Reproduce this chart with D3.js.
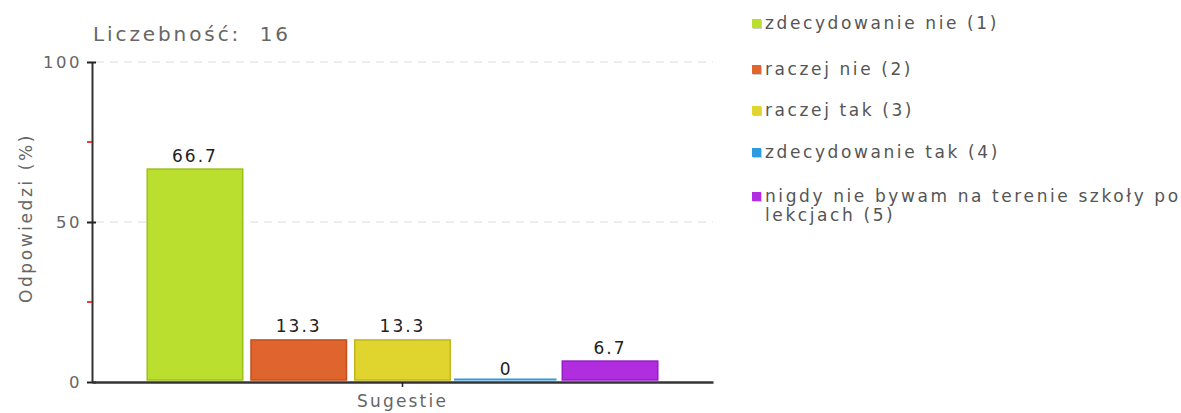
<!DOCTYPE html>
<html>
<head>
<meta charset="utf-8">
<script src="https://cdn.jsdelivr.net/npm/d3@7"></script>
<style>
	body { margin: 0; background: #fff; }
	svg text { font-family: "DejaVu Sans", Verdana, sans-serif; white-space: pre; }
</style>
</head>
<body>
<svg id="canvas" width="1181" height="413"></svg>
<script>
// data
const categories = ["Sugestie"];
const series = ["zdecydowanie nie (1)", "raczej nie (2)", "raczej tak (3)", "zdecydowanie tak (4)", "nigdy nie bywam na terenie szkoły po lekcjach (5)"];
const values = [66.7, 13.3, 13.3, 0, 6.7];
const yTicks = [0, 50, 100];
const yMinorTicks = [25, 75];
const fills = ["#bbdf2e", "#e0642e", "#e0d42e", "#2e9ae0", "#b02ee0"];
const strokes = ["#9cc01a", "#c2501c", "#c4b51c", "#1f82c8", "#951dc6"];
const total = 16;

const svg = d3.select("#canvas");
const margin = {left: 92, top: 62, right: 468, bottom: 31};
const width = 1181 - margin.left - margin.right;
const height = 413 - margin.top - margin.bottom;

const g = svg.append("g").attr("transform", "translate(" + margin.left + "," + margin.top + ")");

const x0 = d3.scaleBand().domain(categories).range([0, width]).paddingInner(0).paddingOuter(0.107);
const x1 = d3.scaleBand().domain(series).range([0, x0.bandwidth()]).paddingInner(0.07).paddingOuter(0);
const y = d3.scaleLinear().domain([0, 100]).range([height, 0]);

// dashed grid
g.selectAll(".grid")
	.data(yTicks.filter(d => d > 0))
	.enter().append("line")
	.attr("x1", 4).attr("x2", width)
	.attr("y1", d => y(d)).attr("y2", d => y(d))
	.attr("stroke", "#dddddd")
	.attr("stroke-dasharray", "8,6");

// bars
const grp = g.selectAll(".cat")
	.data(categories)
	.enter().append("g")
	.attr("transform", d => "translate(" + x0(d) + ",0)");

series.forEach((s, i) => {
	const zero = values[i] === 0;
	const top = zero ? y(0) - 3.5 : y(values[i]) + 0.5;
	grp.append("rect")
		.attr("x", zero ? x1(s) - 4 : x1(s) + 0.5)
		.attr("y", top)
		.attr("width", zero ? x1.bandwidth() + 6 : x1.bandwidth() - 1)
		.attr("height", zero ? 2 : y(0) - 2 - top)
		.attr("fill", fills[i])
		.attr("stroke", zero ? "none" : strokes[i])
		.attr("stroke-width", 1.5);

	grp.append("text")
		.attr("x", x1(s) + x1.bandwidth() / 2)
		.attr("y", y(values[i]) - 7)
		.attr("text-anchor", "middle")
		.attr("font-size", 17)
		.attr("letter-spacing", 2)
		.attr("fill", "#222")
		.text(d3.format("")(values[i]));
});

// y axis
const yAxis = g.append("g")
	.call(d3.axisLeft(y).tickValues(yTicks).tickSize(5).tickSizeOuter(0));
yAxis.select(".domain").attr("stroke", "#333").attr("stroke-width", 2);
yAxis.selectAll(".tick line").attr("stroke", "#222").attr("stroke-width", 2).attr("x2", 4).attr("x1", -5);
yAxis.selectAll(".tick text")
	.attr("x", -10)
	.attr("font-size", 16.5)
	.attr("letter-spacing", 2.5)
	.attr("fill", "#666");

g.selectAll(".minor")
	.data(yMinorTicks)
	.enter().append("line")
	.attr("x1", -5).attr("x2", 0)
	.attr("y1", d => y(d)).attr("y2", d => y(d))
	.attr("stroke", "#e00000").attr("stroke-width", 1.5);

// x axis
const xAxis = g.append("g")
	.attr("transform", "translate(0," + height + ")")
	.call(d3.axisBottom(x0).tickSize(5).tickSizeOuter(0));
xAxis.select(".domain").attr("stroke", "#333").attr("stroke-width", 2.5);
xAxis.selectAll(".tick line").attr("stroke", "#222").attr("stroke-width", 1.5);
xAxis.selectAll(".tick text")
	.attr("y", 13)
	.attr("font-size", 17)
	.attr("letter-spacing", 2.2)
	.attr("fill", "#666");

// axis title
svg.append("text")
	.attr("transform", "translate(32,218) rotate(-90)")
	.attr("text-anchor", "middle")
	.attr("font-size", 17)
	.attr("letter-spacing", 2.6)
	.attr("fill", "#666")
	.text("Odpowiedzi (%)");

// header
svg.append("text")
	.attr("x", 93).attr("y", 41)
	.attr("font-size", 20)
	.attr("letter-spacing", 2.9)
	.attr("fill", "#666")
	.text("Liczebność:  " + total);

// legend
const legendRows = [23, 69, 110, 152, 196];
const legend = svg.append("g");
series.forEach((s, i) => {
	const row = legend.append("g").attr("transform", "translate(752," + legendRows[i] + ")");
	row.append("rect").attr("x", 1).attr("y", -3).attr("width", 9).attr("height", 9).attr("fill", "#ccc");
	row.append("rect").attr("x", 0).attr("y", -4).attr("width", 9).attr("height", 9).attr("fill", fills[i]);
	const t = row.append("text")
		.attr("x", 13).attr("y", 6)
		.attr("font-size", 17)
		.attr("letter-spacing", 2.6)
		.attr("fill", "#555");
	const lines = i === 4 ? ["nigdy nie bywam na terenie szkoły po", "lekcjach (5)"] : [s];
	lines.forEach((l, k) => {
		t.append("tspan").attr("x", 13).attr("dy", k === 0 ? 0 : 19).text(l);
	});
});
</script>
</body>
</html>
